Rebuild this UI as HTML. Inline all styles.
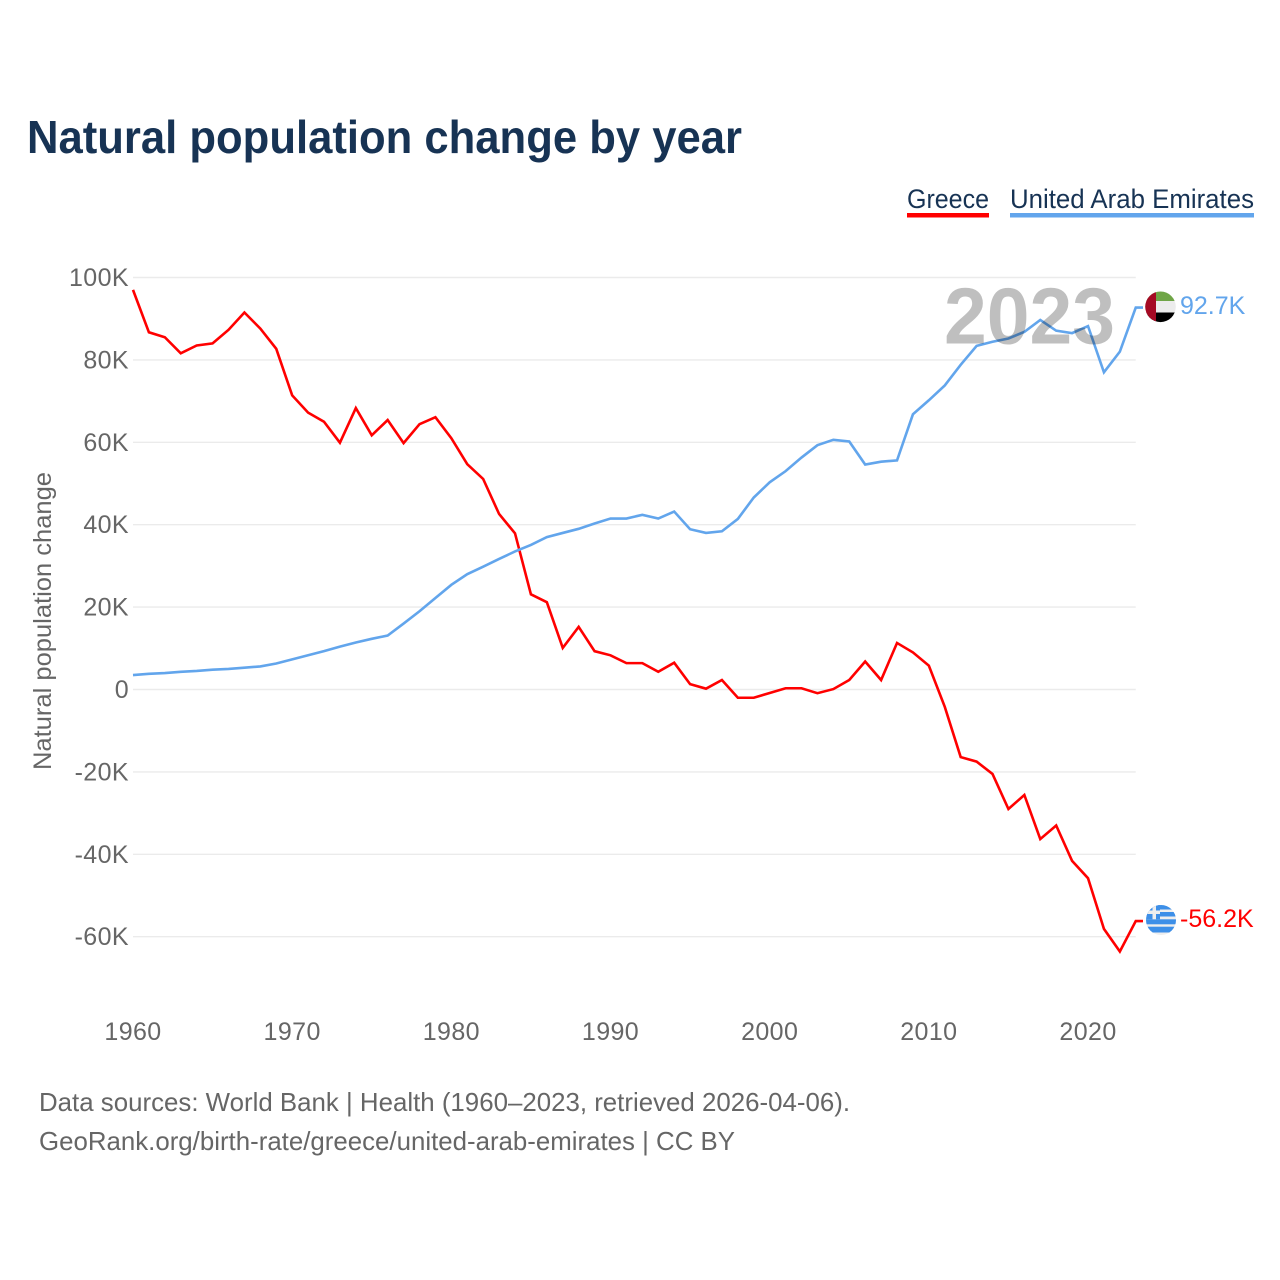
<!DOCTYPE html>
<html lang="en">
<head>
<meta charset="utf-8">
<title>Natural population change by year</title>
<style>
html,body{margin:0;padding:0;background:#fff;width:1280px;height:1280px;overflow:hidden}
svg{display:block;font-family:"Liberation Sans",sans-serif}
</style>
</head>
<body>
<svg id="chart" xmlns="http://www.w3.org/2000/svg" width="1280" height="1280" viewBox="0 0 1280 1280">
  <defs>
    <clipPath id="flag-uae-clip"><circle cx="1160.5" cy="306.8" r="15.3"/></clipPath>
    <clipPath id="flag-gr-clip"><circle cx="1161" cy="920" r="15"/></clipPath>
  </defs>
  <rect width="1280" height="1280" fill="#fff"/>
  <text x="27" y="153" font-size="46" font-weight="700" fill="#173354" textLength="715" lengthAdjust="spacingAndGlyphs">Natural population change by year</text>

  <g>
    <text x="907" y="208" font-size="27" fill="#173354" textLength="82" lengthAdjust="spacingAndGlyphs">Greece</text>
    <rect x="907" y="213" width="82" height="4.5" fill="#ff0000"/>
  </g>
  <g>
    <text x="1010" y="208" font-size="27" fill="#173354" textLength="244" lengthAdjust="spacingAndGlyphs">United Arab Emirates</text>
    <rect x="1010" y="213" width="244" height="4.5" fill="#62a5ec"/>
  </g>

  <g id="grid"></g>
  <g id="y-ticks"></g>
  <g id="x-ticks"></g>
  <text transform="translate(51 621) rotate(-90)" text-anchor="middle" font-size="25" fill="#666" textLength="298" lengthAdjust="spacingAndGlyphs">Natural population change</text>

  <g id="series"></g>

  <text id="year-label" x="944" y="343.5" font-size="80" font-weight="700" fill="#000" fill-opacity="0.25" textLength="171" lengthAdjust="spacingAndGlyphs"></text>

  <g id="flag-uae" clip-path="url(#flag-uae-clip)">
    <rect x="1144" y="291" width="34" height="10" fill="#6fa547"/>
    <rect x="1144" y="301" width="34" height="11.5" fill="#ececec"/>
    <rect x="1144" y="312.5" width="34" height="11" fill="#000"/>
    <rect x="1144" y="291" width="12" height="33" fill="#a50a24"/>
  </g>
  <g id="flag-gr" clip-path="url(#flag-gr-clip)">
    <rect x="1145" y="904" width="32" height="32" fill="#eeeeee"/>
    <rect x="1145" y="904" width="32" height="5.5" fill="#3d8fe8"/>
    <rect x="1145" y="912" width="32" height="4.5" fill="#3d8fe8"/>
    <rect x="1145" y="919.3" width="32" height="5" fill="#3d8fe8"/>
    <rect x="1145" y="926.7" width="32" height="5.8" fill="#3d8fe8"/>
    <rect x="1145" y="904" width="15" height="15.3" fill="#3d8fe8"/>
    <rect x="1145" y="910.5" width="15" height="3.5" fill="#eeeeee"/>
    <rect x="1152.5" y="904" width="3.5" height="15.3" fill="#eeeeee"/>
  </g>
  <g id="end-labels"></g>

  <text x="39" y="1111" font-size="26" fill="#666" textLength="811" lengthAdjust="spacingAndGlyphs">Data sources: World Bank | Health (1960–2023, retrieved 2026-04-06).</text>
  <text x="39" y="1150" font-size="26" fill="#666" textLength="696" lengthAdjust="spacingAndGlyphs">GeoRank.org/birth-rate/greece/united-arab-emirates | CC BY</text>
</svg>
<script>
const firstYear = 1960;
const xTickYears = [1960, 1970, 1980, 1990, 2000, 2010, 2020];
const yTickValues = [100, 80, 60, 40, 20, 0, -20, -40, -60];
const greeceValues = [97.0, 86.7, 85.5, 81.6, 83.5, 84.0, 87.3, 91.5, 87.6, 82.7,
  71.4, 67.2, 65.0, 59.9, 68.3, 61.7, 65.4, 59.8, 64.4, 66.1,
  61.0, 54.7, 51.1, 42.6, 37.9, 23.1, 21.2, 10.1, 15.2, 9.3,
  8.3, 6.4, 6.4, 4.3, 6.5, 1.3, 0.2, 2.3, -2.0, -2.0,
  -0.85, 0.3, 0.3, -0.9, 0.1, 2.3, 6.8, 2.3, 11.3, 9.0,
  5.8, -4.2, -16.4, -17.5, -20.5, -29.0, -25.6, -36.3, -33.0, -41.6,
  -45.8, -58.1, -63.6, -56.2];
const uaeValues = [3.5, 3.8, 4.0, 4.3, 4.5, 4.8, 5.0, 5.3, 5.6, 6.3,
  7.3, 8.3, 9.3, 10.4, 11.4, 12.3, 13.1, 16.0, 19.0, 22.2,
  25.4, 28.0, 29.8, 31.7, 33.5, 35.1, 37.0, 38.0, 39.0, 40.3,
  41.5, 41.5, 42.4, 41.5, 43.2, 38.9, 38.0, 38.4, 41.4, 46.6,
  50.3, 53.0, 56.3, 59.3, 60.6, 60.2, 54.6, 55.3, 55.6, 66.8,
  70.2, 73.8, 78.8, 83.4, 84.4, 85.2, 86.8, 89.7, 87.1, 86.5,
  88.2, 77.0, 82.0, 92.7];
const greeceLabel = "-56.2K";
const uaeLabel = "92.7K";
const yearLabel = "2023";

const NS = "http://www.w3.org/2000/svg";
const xScale = (year) => 133 + (year - firstYear) * 15.917;
const yScale = (value) => 689.5 - value * 4.12;

function makeText(parent, x, y, str, size, fill, anchor) {
  const t = document.createElementNS(NS, "text");
  t.setAttribute("x", x);
  t.setAttribute("y", y);
  t.setAttribute("font-size", size);
  t.setAttribute("fill", fill);
  t.setAttribute("text-anchor", anchor);
  t.textContent = str;
  parent.appendChild(t);
  return t;
}

const grid = document.getElementById("grid");
const yTicks = document.getElementById("y-ticks");
yTickValues.forEach((v) => {
  const line = document.createElementNS(NS, "line");
  line.setAttribute("x1", xScale(firstYear));
  line.setAttribute("x2", xScale(2023));
  line.setAttribute("y1", yScale(v));
  line.setAttribute("y2", yScale(v));
  line.setAttribute("stroke", "#ebebeb");
  line.setAttribute("stroke-width", "1.4");
  
  
  grid.appendChild(line);
  const lab = makeText(yTicks, 129, yScale(v) + 8.5, (v === 0 ? "0" : v + "K"), 25, "#666", "end");
  lab.setAttribute("letter-spacing", "0.4");
  
  
});

const xTicks = document.getElementById("x-ticks");
xTickYears.forEach((yr) => {
  const lab = makeText(xTicks, xScale(yr), 1040, String(yr), 25, "#666", "middle");
  lab.setAttribute("letter-spacing", "0.4");
  
  
});

const seriesGroup = document.getElementById("series");
function drawSeries(values, color, stubX) {
  const pts = values.map((v, i) => xScale(firstYear + i).toFixed(2) + "," + yScale(v).toFixed(2));
  pts.push(stubX + "," + yScale(values[values.length - 1]).toFixed(2));
  const p = document.createElementNS(NS, "polyline");
  p.setAttribute("points", pts.join(" "));
  p.setAttribute("fill", "none");
  p.setAttribute("stroke", color);
  p.setAttribute("stroke-width", "2.6");
  p.setAttribute("stroke-linejoin", "miter");
  seriesGroup.appendChild(p);
  return p;
}
const greeceLine = drawSeries(greeceValues, "#ff0000", 1143);


const uaeLine = drawSeries(uaeValues, "#62a5ec", 1143);



document.getElementById("year-label").textContent = yearLabel;

const endLabels = document.getElementById("end-labels");
const lastG = greeceValues[greeceValues.length - 1];
const lastU = uaeValues[uaeValues.length - 1];
const gLab = makeText(endLabels, 1180, yScale(lastG) + 6, greeceLabel, 25, "#ff0000", "start");


const uLab = makeText(endLabels, 1180, yScale(lastU) + 6.5, uaeLabel, 25, "#62a5ec", "start");


</script>
</body>
</html>
